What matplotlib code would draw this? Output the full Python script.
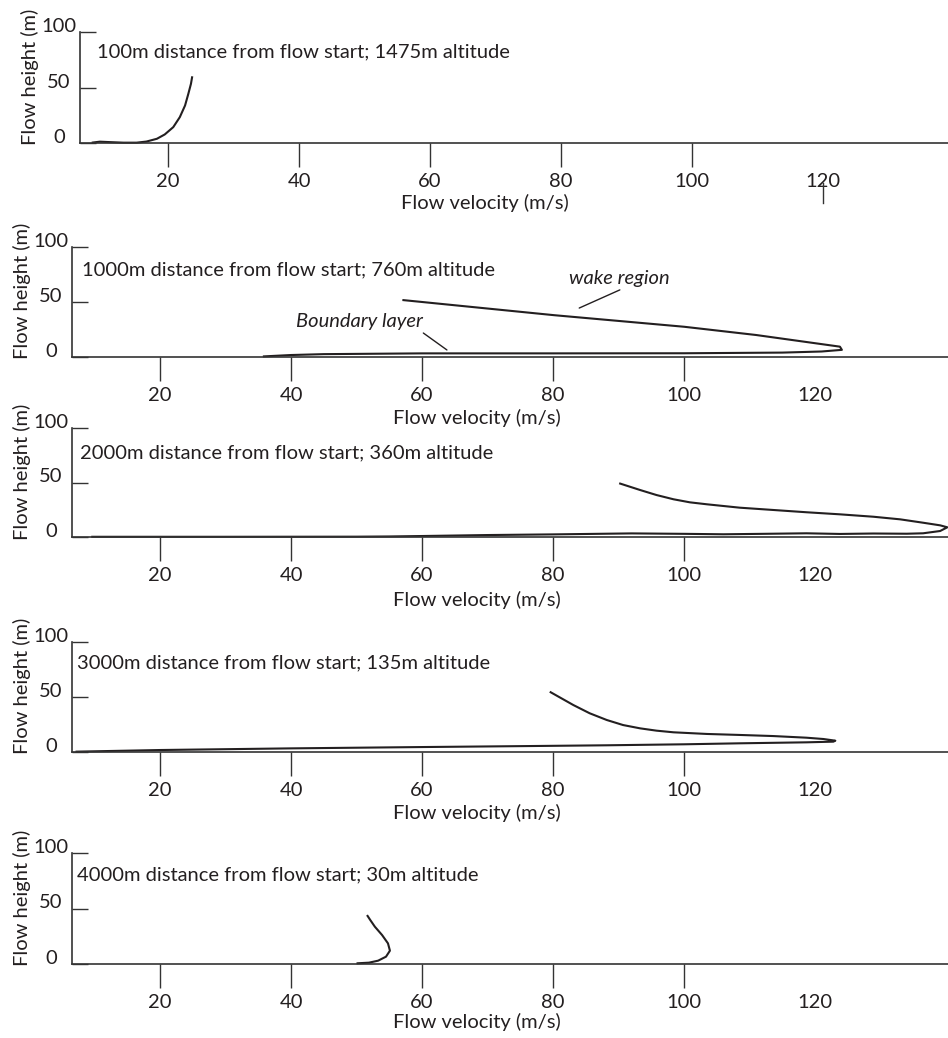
"""
Flow velocity profiles at five distances down the flow path.
Five stacked panels, height (m) against velocity (m/s).
"""
import matplotlib
matplotlib.use("Agg")
from matplotlib import pyplot as plt

plt.rcParams['font.family'] = ['Lato', 'DejaVu Sans']

INK = '#231f20'
FS = 14.5

# ---- data ----
panel_titles = [
    "100m distance from flow start; 1475m altitude",
    "1000m distance from flow start; 760m altitude",
    "2000m distance from flow start; 360m altitude",
    "3000m distance from flow start; 135m altitude",
    "4000m distance from flow start; 30m altitude",
]

p1_vel = [8.35, 9.6, 11.1, 13.2, 15.2, 16.7, 18.3, 19.5, 20.8, 21.8, 22.6, 23.1, 23.5, 23.7]
p1_hgt = [0.3, 1.2, 0.8, 0.3, 0.3, 1.3, 3.8, 7.7, 14.3, 23.3, 33.8, 44.3, 53.3, 60.1]

p2_vel = [35.7, 40, 45, 60, 80, 100, 115, 121, 124.1, 123.8, 118, 111, 100, 80.2, 57]
p2_hgt = [0.5, 1.8, 2.6, 3.3, 3.3, 3.4, 4.0, 5.0, 6.5, 9.4, 14.2, 20.0, 27.5, 38.0, 51.8]

p3_vel = [9.5, 30, 50, 55, 60, 70, 80, 92, 100, 106, 112, 118.7, 123.8, 128.9, 134, 136.5,
          139.1, 140.2,
          139.1, 136.5, 133, 128.9, 123.8, 118.7, 113.6, 108.5, 103.5, 100.9, 98.4,
          95.8, 93.3, 90.1]
p3_hgt = [0.2, 0.2, 0.3, 0.5, 0.9, 1.8, 2.4, 3.3, 2.9, 2.5, 2.9, 3.4, 2.8, 3.2, 3.0, 3.4,
          5.5, 8.9,
          10.7, 13.1, 16.2, 18.6, 20.8, 22.7, 24.8, 26.9, 30.0, 31.8, 34.6,
          38.5, 43.1, 49.3]

p4_vel = [7.1, 20, 40, 60, 78, 88.2, 100, 108.5, 118.7, 122.8,
          123.1, 121.3, 118.7, 113.6, 108.5, 103.5, 98.4, 95.8, 93.3, 90.7,
          88.2, 85.6, 83.1, 79.5]
p4_hgt = [0.3, 1.8, 3.3, 4.5, 5.5, 6.1, 7.0, 7.9, 8.8, 9.4,
          10.3, 11.8, 13.0, 14.5, 15.5, 16.4, 17.9, 19.4, 21.5, 24.5,
          29.1, 35.2, 42.7, 54.8]

p5_vel = [50.0, 51.9, 53.3, 54.5, 55.1, 54.8, 53.9, 52.8, 52.1, 51.6]
p5_hgt = [0.6, 1.2, 3.0, 6.6, 12.0, 18.6, 26.1, 33.6, 39.6, 44.1]

profiles = [(p1_vel, p1_hgt), (p2_vel, p2_hgt), (p3_vel, p3_hgt),
            (p4_vel, p4_hgt), (p5_vel, p5_hgt)]

x_ticks = [20, 40, 60, 80, 100, 120]
y_ticks = [0, 50, 100]

# ---- layout (pixels on a 948x1038 canvas) ----
W, H = 948, 1038
AX_W = 877.7
XLIM = (6.5, 140.5)
# left edge, baseline y (from top), height
panels_px = [(79.6, 143, 111), (71.6, 357, 110), (71.6, 537, 109),
             (71.6, 752, 110), (71.6, 964, 111)]
title_xy = [(9.2, 82), (8.05, 79), (7.85, 77), (7.4, 80.6), (7.4, 80)]
xlabel_drop = [60, 61, 63, 61, 58]


def main():
    fig = plt.figure(figsize=(W / 100, H / 100), dpi=100)

    for i, (left, base, hgt) in enumerate(panels_px):
        ax = fig.add_axes([left / W, (H - base) / H, AX_W / W, hgt / H])
        vel, h = profiles[i]
        ax.plot(vel, h, color=INK, lw=1.5, clip_on=False,
                solid_capstyle='butt', solid_joinstyle='round')

        ax.set_xlim(*XLIM)
        ax.set_ylim(0, 100)
        for side in ('top', 'right'):
            ax.spines[side].set_visible(False)
        for side in ('left', 'bottom'):
            ax.spines[side].set_linewidth(1.2)
            ax.spines[side].set_color('#333333')

        ax.set_xticks(x_ticks)
        ax.set_xticklabels([str(t) for t in x_ticks])
        ax.set_yticks(y_ticks)
        ax.set_yticklabels([str(t) for t in y_ticks])
        ax.tick_params(axis='x', direction='out', length=17, width=1.0,
                       color='#333333', pad=4.3, labelsize=FS, labelcolor=INK)
        ax.tick_params(axis='y', direction='in', length=11.5, width=1.0,
                       color='#333333', pad=15, labelsize=FS, labelcolor=INK)
        for lab in ax.get_yticklabels():
            lab.set_ha('center')
            lab.set_va('baseline')
        # the 120 label has no tick mark under the axis
        ax.xaxis.get_major_ticks()[-1].tick1line.set_visible(False)

        ax.set_xlabel("Flow velocity (m/s)", fontsize=FS, color=INK)
        ax.xaxis.label.set_va('center')
        ax.xaxis.set_label_coords((68.3 - XLIM[0]) / (XLIM[1] - XLIM[0]),
                                  -xlabel_drop[i] / hgt)
        ax.set_ylabel("Flow height (m)", fontsize=FS, color=INK)
        ax.yaxis.label.set_va('center')
        ax.yaxis.set_label_coords(-50 / AX_W, 0.5 + 11 / hgt)

        tx, ty = title_xy[i]
        ax.text(tx, ty, panel_titles[i], fontsize=FS, color=INK,
                ha='left', va='center')

        if i == 0:
            # stray tick drawn below the 120 label in the top panel
            ax.plot([120, 120], [-40 / hgt, -60 / hgt], color='#333333', lw=1.0,
                    transform=ax.get_xaxis_transform(), clip_on=False)
        if i == 1:
            ax.annotate("wake region", xy=(84, 44.5), xytext=(90.1, 71.8),
                        fontsize=FS, style='italic', color=INK,
                        ha='center', va='center')
            ax.annotate("", xy=(84, 44.5), xytext=(90.2, 61),
                        arrowprops=dict(arrowstyle='-', color=INK, lw=1.0,
                                        shrinkA=0, shrinkB=0))
            ax.annotate("Boundary layer", xy=(63.8, 6.4), xytext=(50.4, 32.1),
                        fontsize=FS, style='italic', color=INK,
                        ha='center', va='center')
            ax.annotate("", xy=(63.8, 6.4), xytext=(60.2, 21.8),
                        arrowprops=dict(arrowstyle='-', color=INK, lw=1.0,
                                        shrinkA=0, shrinkB=0))

    fig.savefig("out.png", dpi=100)


if __name__ == "__main__":
    main()
